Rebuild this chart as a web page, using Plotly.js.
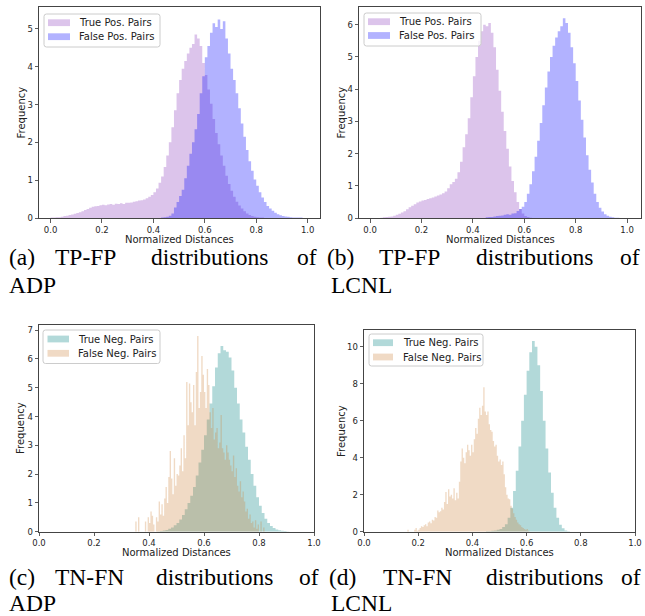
<!DOCTYPE html>
<html><head><meta charset="utf-8">
<script src="https://cdn.plot.ly/plotly-3.0.1.min.js"></script>
<style>html,body{margin:0;padding:0;background:#fff}#chart{width:645px;height:616px}</style>
</head><body><div id="chart"></div>
<script>
// ---------- DATA (histogram bin heights) ----------
// (a) ADP, TP-FP ; bins of 0.01 starting at given left edge
const tpA_start = 0.00, tpA_step = 0.01;
const tpA = [0.01,0.01,0.02,0.02,0.03,0.05,0.06,0.08,0.09,0.11,
  0.13,0.15,0.18,0.21,0.24,0.27,0.30,0.31,0.32,0.34,
  0.35,0.34,0.36,0.37,0.35,0.38,0.37,0.39,0.37,0.40,
  0.40,0.41,0.43,0.44,0.46,0.47,0.49,0.52,0.56,0.61,
  0.68,0.78,0.93,1.10,1.35,1.65,2.00,2.40,2.85,3.30,
  3.65,3.95,4.15,4.35,4.50,4.60,4.85,4.75,4.55,4.10,
  3.78,3.40,3.02,2.62,2.25,1.95,1.65,1.38,1.12,0.90,
  0.72,0.56,0.43,0.33,0.25,0.18,0.12,0.08,0.05,0.03,
  0.02,0.01,0.01];
const fpA_start = 0.43, fpA_step = 0.01;
const fpA = [0.01,0.02,0.03,0.06,0.12,0.28,0.42,0.58,0.75,1.05,
  1.38,1.70,2.00,2.35,2.75,3.30,3.75,4.25,4.55,4.90,
  5.15,5.05,5.25,5.00,5.20,4.75,4.35,3.95,3.65,3.30,
  2.90,2.50,2.15,1.80,1.50,1.25,1.02,0.85,0.68,0.54,
  0.42,0.32,0.25,0.19,0.14,0.10,0.07,0.05,0.04,0.03,
  0.02,0.01,0.01,0.01,0.01];
// (b) LCNL, TP-FP
const tpB_start = 0.04, tpB_step = 0.01;
const tpB = [0.01,0.02,0.03,0.04,0.05,0.07,0.10,0.13,0.17,0.21,
  0.27,0.33,0.38,0.43,0.48,0.51,0.54,0.56,0.59,0.61,
  0.64,0.67,0.70,0.73,0.77,0.82,0.92,1.05,1.12,1.22,
  1.42,1.75,2.20,2.60,3.10,3.75,4.40,5.00,5.50,5.80,
  6.00,5.95,6.05,5.75,5.30,4.60,3.95,3.30,2.70,2.15,
  1.60,1.15,0.80,0.50,0.28,0.14,0.06,0.03,0.01];
const fpB_start = 0.45, fpB_step = 0.01;
const fpB = [0.02,0.03,0.03,0.05,0.06,0.07,0.08,0.10,0.12,0.10,
  0.14,0.15,0.22,0.28,0.35,0.50,0.75,1.05,1.45,1.90,
  2.40,2.95,3.50,4.05,4.55,5.00,5.35,5.60,5.80,5.95,
  6.20,6.05,5.75,5.30,4.80,4.25,3.65,3.05,2.50,1.95,
  1.50,1.10,0.75,0.50,0.32,0.20,0.12,0.07,0.04,0.02,
  0.01,0.01];
// (c) ADP, TN-FN
const tnC_start = 0.43, tnC_step = 0.01;
const tnC = [0.01,0.02,0.04,0.06,0.10,0.15,0.22,0.30,0.42,0.58,
  0.78,1.00,1.25,1.55,1.95,2.40,2.85,3.35,3.90,4.45,
  5.05,5.70,6.20,6.45,6.30,6.25,6.05,5.60,5.00,4.45,
  3.90,3.45,2.95,2.50,2.00,1.60,1.20,0.90,0.65,0.45,
  0.30,0.20,0.13,0.08,0.05,0.03,0.02,0.01];
const fnC_start = 0.350, fnC_step = 0.005;
const fnC = [0.35,0,0.5,0,0,0,0,0.35,0,0.5,
  0.3,0.7,0.55,0.25,0,0.5,0.35,1.05,0.6,0.95,
  0.55,1.15,1.55,1.0,1.9,2.8,1.85,1.3,2.55,1.6,
  2.0,1.95,2.3,2.9,2.1,3.35,2.55,5.2,3.7,5.15,
  4.5,4.15,5.1,3.7,5.55,6.8,4.3,4.85,6.1,5.45,
  4.85,4.3,5.65,5.1,4.15,3.6,4.3,3.2,3.45,3.6,
  2.9,3.1,4.05,2.9,2.75,2.5,3.0,2.75,2.5,2.3,
  2.1,2.65,1.9,2.2,1.6,1.4,1.75,1.2,1.4,1.05,
  0.7,0.8,0.45,0.6,0.3,0.35,0.15,0.4,0.1,0.25,
  0,0.35,0,0.15];
// (d) LCNL, TN-FN
const tnD_start = 0.45, tnD_step = 0.01;
const tnD = [0.02,0.03,0.05,0.07,0.10,0.15,0.25,0.40,0.75,1.30,
  2.20,3.30,4.60,6.00,7.40,8.70,9.70,10.30,10.00,9.00,
  7.60,6.00,4.50,3.20,2.10,1.30,0.75,0.38,0.18,0.07,
  0.02];
const fnD_start = 0.160, fnD_step = 0.005;
const fnD = [0.1,0,0,0,0,0.1,0.2,0.05,0.1,0.2,
  0.3,0.25,0.35,0.4,0.3,0.5,0.55,0.45,0.65,0.6,
  0.8,0.75,1.15,1.05,1.1,1.3,1.2,1.6,2.15,1.5,
  2.3,1.9,2.0,1.8,2.35,1.7,2.1,1.8,2.7,3.8,
  4.5,4.0,3.7,4.3,4.7,4.4,4.1,4.7,4.3,5.0,
  5.6,5.3,6.1,6.7,6.3,6.8,7.8,6.5,6.3,6.5,
  5.8,5.5,5.4,4.9,4.6,4.7,4.1,3.8,3.9,3.6,
  3.8,3.1,2.4,2.0,1.8,1.75,1.4,1.25,1.0,0.8,
  0.65,0.5,0.4,0.35,0.25,0.2,0.15,0.1,0.15,0.05];

const xTicks = [0.0,0.2,0.4,0.6,0.8,1.0];
const xTickText = ['0.0','0.2','0.4','0.6','0.8','1.0'];
const yTicksA = [0,1,2,3,4,5], yTicksB = [0,1,2,3,4,5,6], yTicksC = [0,1,2,3,4,5,6,7], yTicksD = [0,2,4,6,8,10];
const labels = {tp:'True Pos. Pairs', fp:'False Pos. Pairs', tn:'True Neg. Pairs', fn:'False Neg. Pairs'};
const xTitle = 'Normalized Distances', yTitle = 'Frequency';

// ---------- build step-area histogram traces ----------
function hist(start, step, h, name, color, xa, ya){
  const x = [], y = [];
  for (let i = 0; i < h.length; i++){ x.push(start + i*step); y.push(h[i]); }
  x.push(start + h.length*step); y.push(h[h.length-1]);
  return {type:'scatter', mode:'lines', x:x, y:y, name:name, xaxis:xa, yaxis:ya,
    line:{shape:'hv', width:0, color:color}, fill:'tozeroy', fillcolor:color,
    showlegend:false, hoverinfo:'skip'};
}
const cTP = 'rgba(140,60,190,0.3)', cFP = 'rgba(0,0,255,0.3)';
const cTN = 'rgba(0,128,128,0.3)', cFN = 'rgba(205,133,63,0.3)';
const traces = [
  hist(tpA_start,tpA_step,tpA,labels.tp,cTP,'x','y'),
  hist(fpA_start,fpA_step,fpA,labels.fp,cFP,'x','y'),
  hist(tpB_start,tpB_step,tpB,labels.tp,cTP,'x2','y2'),
  hist(fpB_start,fpB_step,fpB,labels.fp,cFP,'x2','y2'),
  hist(tnC_start,tnC_step,tnC,labels.tn,cTN,'x3','y3'),
  hist(fnC_start,fnC_step,fnC,labels.fn,cFN,'x3','y3'),
  hist(tnD_start,tnD_step,tnD,labels.tn,cTN,'x4','y4'),
  hist(fnD_start,fnD_step,fnD,labels.fn,cFN,'x4','y4')
];

const W = 645, H = 616;
const px = v => v / W, py = v => 1 - v / H;
const tickFont = {family:'DejaVu Sans', size:8.5, color:'#262626'};
function xax(l, r, range, anchor){
  return {domain:[px(l), px(r)], range:range, anchor:anchor, tickvals:xTicks, ticktext:xTickText,
    ticks:'outside', ticklen:3.5, tickwidth:0.8, tickcolor:'#333', showline:true, mirror:true,
    linecolor:'#444', linewidth:1, showgrid:false, zeroline:false, tickfont:tickFont, automargin:false, fixedrange:true};
}
function yax(t, b, range, ticks, anchor){
  return {domain:[py(b), py(t)], range:range, anchor:anchor, tickvals:ticks,
    ticks:'outside', ticklen:3.5, tickwidth:0.8, tickcolor:'#333', showline:true, mirror:true,
    linecolor:'#444', linewidth:1, showgrid:false, zeroline:false, tickfont:tickFont, automargin:false, fixedrange:true};
}
const ann = [], shapes = [];
function txt(s, x, y, opts){
  ann.push(Object.assign({text:s, x:px(x), y:py(y), xref:'paper', yref:'paper', showarrow:false,
    xanchor:'center', yanchor:'middle', font:{family:'DejaVu Sans', size:10, color:'#222'}}, opts||{}));
}
// legend boxes drawn as in the figure (box, colour patches, labels)
function legendBox(x0, y0, x1, y1, rows){
  const r = 2.5;
  const P = (x, y) => px(x) + ',' + py(y);
  const d = 'M' + P(x0 + r, y0) + ' L' + P(x1 - r, y0) + ' Q' + P(x1, y0) + ' ' + P(x1, y0 + r) +
    ' L' + P(x1, y1 - r) + ' Q' + P(x1, y1) + ' ' + P(x1 - r, y1) +
    ' L' + P(x0 + r, y1) + ' Q' + P(x0, y1) + ' ' + P(x0, y1 - r) +
    ' L' + P(x0, y0 + r) + ' Q' + P(x0, y0) + ' ' + P(x0 + r, y0) + ' Z';
  shapes.push({type:'path', xref:'paper', yref:'paper', path:d, fillcolor:'rgba(255,255,255,0.8)',
    line:{color:'#cccccc', width:1}, layer:'above'});
  rows.forEach(rw => {
    shapes.push({type:'rect', xref:'paper', yref:'paper', x0:px(rw.px0), x1:px(rw.px1),
      y0:py(rw.cy + 3.4), y1:py(rw.cy - 3.4), fillcolor:rw.color, line:{width:0}, layer:'above'});
    txt(rw.label, rw.tx, rw.cy, {xanchor:'left'});
  });
}
legendBox(44, 14, 160, 47, [
  {px0:48, px1:70, cy:22.7, color:cTP, label:labels.tp, tx:77},
  {px0:48, px1:70, cy:36.7, color:cFP, label:labels.fp, tx:77}]);
legendBox(364, 13, 481, 46, [
  {px0:368, px1:390, cy:21.7, color:cTP, label:labels.tp, tx:397},
  {px0:368, px1:390, cy:35.5, color:cFP, label:labels.fp, tx:397}]);
legendBox(43, 330, 160, 363.5, [
  {px0:47.5, px1:69, cy:339, color:cTN, label:labels.tn, tx:76},
  {px0:47.5, px1:69, cy:353.3, color:cFN, label:labels.fn, tx:76}]);
legendBox(369, 334, 483, 366, [
  {px0:373, px1:393, cy:342.7, color:cTN, label:labels.tn, tx:400.5},
  {px0:373, px1:393, cy:357, color:cFN, label:labels.fn, tx:400.5}]);

// axis titles
txt(xTitle, 179.5, 239); txt(xTitle, 500, 239); txt(xTitle, 176.5, 552); txt(xTitle, 499.5, 552);
txt(yTitle, 21, 112.5, {textangle:-90}); txt(yTitle, 341, 112.5, {textangle:-90});
txt(yTitle, 20, 428, {textangle:-90}); txt(yTitle, 341, 431, {textangle:-90});
// captions (justified lines)
const capFont = {family:'Liberation Serif', size:23.5, color:'#000'};
function cap(s, x, y, anchor){ txt(s, x, y, {xanchor:anchor, font:capFont}); }
cap('(a)', 7, 257, 'left'); cap('TP-FP', 53, 257, 'left'); cap('distributions', 210, 257, 'center'); cap('of', 319, 257, 'right');
cap('ADP', 7, 285, 'left');
cap('(b)', 325, 257, 'left'); cap('TP-FP', 377, 257, 'left'); cap('distributions', 535, 257, 'center'); cap('of', 642, 257, 'right');
cap('LCNL', 329, 285, 'left');
cap('(c)', 7, 577, 'left'); cap('TN-FN', 53, 577, 'left'); cap('distributions', 215, 577, 'center'); cap('of', 321, 577, 'right');
cap('ADP', 7, 603, 'left');
cap('(d)', 327, 577, 'left'); cap('TN-FN', 381, 577, 'left'); cap('distributions', 545, 577, 'center'); cap('of', 643, 577, 'right');
cap('LCNL', 329, 603, 'left');

const layout = {
  width:W, height:H, margin:{l:0,r:0,t:0,b:0}, paper_bgcolor:'#fff', plot_bgcolor:'#fff',
  showlegend:false, hovermode:false,
  xaxis: xax(39, 320, [-0.045, 1.048], 'y'),
  yaxis: yax(7, 218, [0, 5.58], yTicksA, 'x'),
  xaxis2: xax(359, 641, [-0.043, 1.054], 'y2'),
  yaxis2: yax(7, 218, [0, 6.55], yTicksB, 'x2'),
  xaxis3: xax(39, 314, [0, 1], 'y3'),
  yaxis3: yax(325, 531.7, [0, 7.18], yTicksC, 'x3'),
  xaxis4: xax(364, 635, [0, 1], 'y4'),
  yaxis4: yax(330, 531.7, [0, 10.9], yTicksD, 'x4'),
  shapes: shapes,
  annotations: ann
};
Plotly.newPlot('chart', traces, layout, {staticPlot:true, displayModeBar:false});
</script>
</body></html>
